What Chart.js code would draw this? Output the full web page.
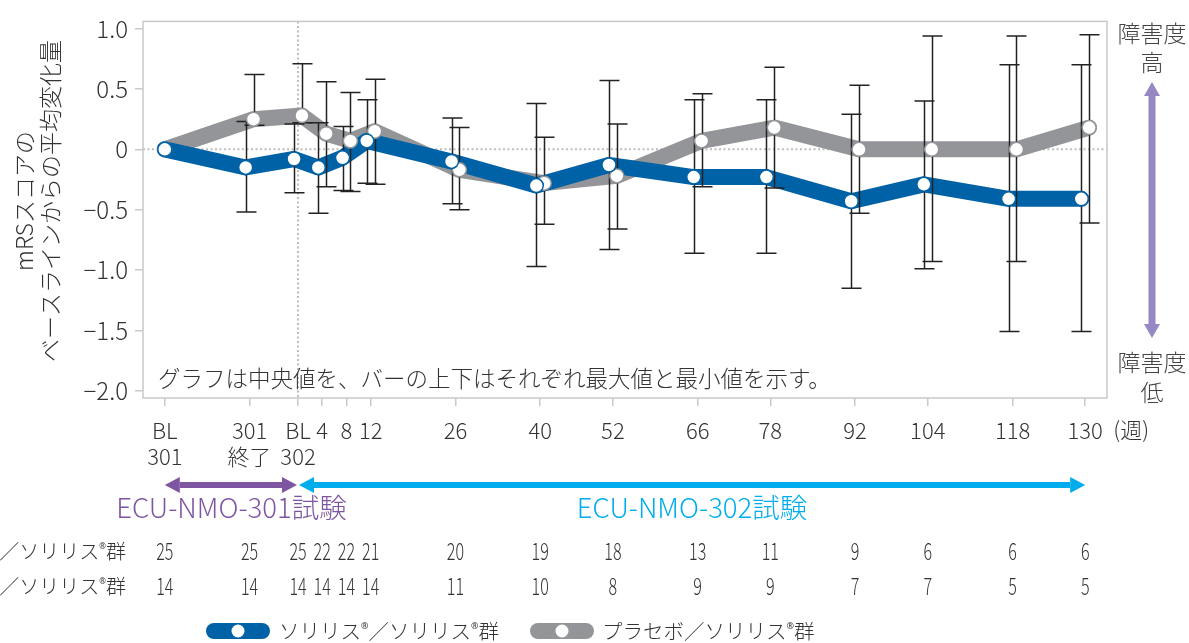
<!DOCTYPE html>
<html>
<head>
<meta charset="utf-8">
<script src="https://cdn.jsdelivr.net/npm/chart.js@4.4.1/dist/chart.umd.min.js"></script>
<style>
  html, body { margin: 0; padding: 0; background: #fff; overflow: hidden; }
  #wrap { position: relative; width: 1189px; height: 643px; }
</style>
</head>
<body>
<div id="wrap"><canvas id="c" width="1189" height="643"></canvas></div>
<script>
// ---------- data ----------
const weeks = [-22, -8, 0, 4, 8, 12, 26, 40, 52, 66, 78, 92, 104, 118, 130];
const xTickLabels = [["BL", "301"], ["301", "終了"], ["BL", "302"], "4", "8", "12", "26", "40", "52", "66", "78", "92", "104", "118", "130"];
const yTickValues = [1, 0.5, 0, -0.5, -1, -1.5, -2];
const yTickLabels = ["1.0", "0.5", "0", "−0.5", "−1.0", "−1.5", "−2.0"];

const solirisMedian = [0, -0.15, -0.08, -0.15, -0.07, 0.07, -0.10, -0.30, -0.13, -0.23, -0.23, -0.43, -0.29, -0.41, -0.41];
const solirisMax    = [null, 0.23, 0.21, 0.22, 0.19, 0.41, 0.26, 0.38, 0.57, 0.41, 0.41, 0.29, 0.40, 0.70, 0.70];
const solirisMin    = [null, -0.52, -0.36, -0.53, -0.34, -0.28, -0.45, -0.97, -0.83, -0.86, -0.86, -1.15, -0.99, -1.51, -1.51];

const placeboMedian = [0, 0.25, 0.28, 0.13, 0.07, 0.15, -0.17, -0.28, -0.22, 0.07, 0.18, 0, 0, 0, 0.18];
const placeboMax    = [null, 0.62, 0.71, 0.56, 0.47, 0.58, 0.18, 0.10, 0.21, 0.46, 0.68, 0.53, 0.94, 0.94, 0.95];
const placeboMin    = [null, 0.20, 0.22, -0.31, -0.35, -0.29, -0.50, -0.62, -0.66, -0.31, -0.32, -0.53, -0.93, -0.93, -0.61];

const nSoliris = [25, 25, 25, 22, 22, 21, 20, 19, 18, 13, 11, 9, 6, 6, 6];
const nPlacebo = [14, 14, 14, 14, 14, 14, 11, 10, 8, 9, 9, 7, 7, 5, 5];

const seriesNames = ["ソリリス®／ソリリス®群", "プラセボ／ソリリス®群"];
const yTitle = ["mRSスコアの", "ベースラインからの平均変化量"];
const noteText = "グラフは中央値を、バーの上下はそれぞれ最大値と最小値を示す。";
const studyLabels = ["ECU-NMO-301試験", "ECU-NMO-302試験"];
const weekUnit = "(週)";

// ---------- style ----------
const FONT = '"Noto Sans CJK JP", "Noto Sans", sans-serif';
const W = "300 ";
const BLUE = "#0062a6";
const GRAY = "#939598";
const PURPLE = "#7d55a1";
const CYAN = "#00adec";
const LAVENDER = "#9588c3";
const TEXT = "#333333";
const FRAME = "#c9c9c9";
const OFFSET = 0.65; // horizontal dodge (weeks) between the two groups where error bars exist

const dodge = (i, sign) => (solirisMax[i] == null ? 0 : sign * OFFSET);
const toPts = (arr, sign) => weeks.map((w, i) => ({ x: w + dodge(i, sign), y: arr[i] }));

function drawRich(ctx, str, x, y, size, align) {
  const parts = str.split(/(®)/).filter(s => s.length);
  const small = Math.round(size * 0.42);
  const fontFor = p => (p === "®" ? small + 'px "Noto Sans", sans-serif' : W + size + "px " + FONT);
  let total = 0;
  parts.forEach(p => { ctx.font = fontFor(p); total += ctx.measureText(p).width; });
  let cx = align === "right" ? x - total : x;
  ctx.textAlign = "left";
  parts.forEach(p => {
    ctx.font = fontFor(p);
    ctx.fillText(p, cx, p === "®" ? y - size * 0.22 : y);
    cx += ctx.measureText(p).width;
  });
}

function arrowH(ctx, x1, x2, y, color) {
  const hl = 15, hw = 8, sw = 3;
  ctx.fillStyle = color;
  ctx.fillRect(x1 + hl, y - sw, x2 - x1 - 2 * hl, sw * 2);
  ctx.beginPath(); ctx.moveTo(x1, y); ctx.lineTo(x1 + hl, y - hw); ctx.lineTo(x1 + hl, y + hw); ctx.closePath(); ctx.fill();
  ctx.beginPath(); ctx.moveTo(x2, y); ctx.lineTo(x2 - hl, y - hw); ctx.lineTo(x2 - hl, y + hw); ctx.closePath(); ctx.fill();
}

const decor = {
  id: "decor",
  beforeDatasetsDraw(chart) {
    const { ctx, chartArea: ca, scales: { x, y } } = chart;
    ctx.save();
    ctx.strokeStyle = "#bdbdbd";
    ctx.lineWidth = 2;
    ctx.setLineDash([2, 2.5]);
    const y0 = y.getPixelForValue(0);
    ctx.beginPath(); ctx.moveTo(ca.left, y0); ctx.lineTo(ca.right, y0); ctx.stroke();
    const xv = x.getPixelForValue(0);
    ctx.beginPath(); ctx.moveTo(xv, ca.top); ctx.lineTo(xv, ca.bottom); ctx.stroke();
    ctx.restore();
  },
  beforeDatasetDraw(chart, args) {
    if (args.index !== 2) return;
    const { ctx, scales: { x, y } } = chart;
    ctx.save();
    ctx.strokeStyle = "#222";
    ctx.lineWidth = 1.5;
    const drawBars = (mx, mn, sign) => {
      weeks.forEach((w, i) => {
        if (mx[i] == null) return;
        const px = Math.round(x.getPixelForValue(w + dodge(i, sign))) + 0.5;
        const t = y.getPixelForValue(mx[i]);
        const b = y.getPixelForValue(mn[i]);
        ctx.beginPath();
        ctx.moveTo(px, t); ctx.lineTo(px, b);
        ctx.moveTo(px - 10, t); ctx.lineTo(px + 10, t);
        ctx.moveTo(px - 10, b); ctx.lineTo(px + 10, b);
        ctx.stroke();
      });
    };
    drawBars(placeboMax, placeboMin, 1);
    drawBars(solirisMax, solirisMin, -1);
    ctx.restore();
  },
  afterDraw(chart) {
    const { ctx, chartArea: ca, scales: { x } } = chart;
    ctx.save();
    ctx.strokeStyle = FRAME;
    ctx.lineWidth = 1.5;
    ctx.strokeRect(ca.left, ca.top, ca.right - ca.left, ca.bottom - ca.top);

    ctx.fillStyle = TEXT;
    ctx.textBaseline = "middle";
    ctx.font = W + "22.5px " + FONT;
    ctx.textAlign = "left";
    ctx.fillText(noteText, ca.left + 15, 378);

    ctx.save();
    ctx.translate(24, 201);
    ctx.rotate(-Math.PI / 2);
    ctx.textAlign = "center";
    ctx.font = W + "23px " + FONT;
    ctx.fillText(yTitle[0], 0, 0);
    ctx.fillText(yTitle[1], 0, 26);
    ctx.restore();

    ctx.font = W + "22px " + FONT;
    ctx.textAlign = "center";
    ctx.fillText(weekUnit, x.getPixelForValue(weeks[weeks.length - 1]) + 46, 430);

    ctx.fillStyle = "#444";
    ctx.font = W + "23px " + FONT;
    ctx.fillText("障害度", 1152, 33);
    ctx.fillText("高", 1152, 62);
    ctx.fillText("障害度", 1152, 362);
    ctx.fillText("低", 1152, 392);
    ctx.fillStyle = LAVENDER;
    ctx.fillRect(1152 - 3.5, 94, 7, 232);
    ctx.beginPath(); ctx.moveTo(1152, 82); ctx.lineTo(1144, 96); ctx.lineTo(1160, 96); ctx.closePath(); ctx.fill();
    ctx.beginPath(); ctx.moveTo(1152, 338); ctx.lineTo(1144, 324); ctx.lineTo(1160, 324); ctx.closePath(); ctx.fill();

    const xa = x.getPixelForValue(weeks[0]);
    const xb = x.getPixelForValue(weeks[2]);
    const xc = x.getPixelForValue(weeks[weeks.length - 1]);
    arrowH(ctx, xa, xb - 1, 485, PURPLE);
    arrowH(ctx, xb + 1, xc, 485, CYAN);
    ctx.font = W + "27.5px " + FONT;
    ctx.textAlign = "center";
    ctx.fillStyle = PURPLE;
    ctx.fillText(studyLabels[0], (xa + xb) / 2, 508);
    ctx.fillStyle = CYAN;
    ctx.fillText(studyLabels[1], 692, 508);

    ctx.fillStyle = TEXT;
    drawRich(ctx, seriesNames[0], 126, 551, 20, "right");
    drawRich(ctx, seriesNames[1], 126, 586, 20, "right");
    ctx.font = W + "23px " + FONT;
    ctx.textAlign = "center";
    weeks.forEach((w, i) => {
      const px = x.getPixelForValue(w);
      [[nSoliris, 551], [nPlacebo, 586]].forEach(([arr, yy]) => {
        ctx.save();
        ctx.translate(px, yy);
        ctx.scale(0.7, 1);
        ctx.fillText(String(arr[i]), 0, 0);
        ctx.restore();
      });
    });

    const pill = (x0, color) => {
      ctx.fillStyle = color;
      ctx.beginPath();
      ctx.roundRect(x0, 623, 64, 16, 8);
      ctx.fill();
      ctx.fillStyle = "#fff";
      ctx.beginPath(); ctx.arc(x0 + 32, 631, 6.5, 0, Math.PI * 2); ctx.fill();
    };
    pill(206, BLUE);
    pill(530, GRAY);
    ctx.fillStyle = TEXT;
    drawRich(ctx, seriesNames[0], 279, 631, 20.5, "left");
    drawRich(ctx, seriesNames[1], 602, 631, 20.5, "left");
    ctx.restore();
  }
};

new Chart(document.getElementById("c"), {
  type: "line",
  data: {
    datasets: [
      { data: toPts(placeboMedian, 1), borderColor: GRAY, borderWidth: 16, pointRadius: 0, borderJoinStyle: "round", borderCapStyle: "round", tension: 0, order: 4 },
      { data: toPts(solirisMedian, -1), borderColor: BLUE, borderWidth: 16, pointRadius: 0, borderJoinStyle: "round", borderCapStyle: "round", tension: 0, order: 3 },
      { data: toPts(placeboMedian, 1), showLine: false, pointRadius: 7, pointBackgroundColor: "#fff", pointBorderColor: GRAY, pointBorderWidth: 1.5, order: 2 },
      { data: toPts(solirisMedian, -1), showLine: false, pointRadius: 7, pointBackgroundColor: "#fff", pointBorderColor: BLUE, pointBorderWidth: 1.5, order: 1 }
    ]
  },
  options: {
    responsive: false,
    devicePixelRatio: 1,
    animation: false,
    events: [],
    layout: { padding: { left: 0, top: 21, right: 82, bottom: 175 } },
    plugins: { legend: { display: false }, tooltip: { enabled: false } },
    scales: {
      x: {
        type: "linear",
        min: -25.6,
        max: 133.6,
        afterFit: s => { s.height = 70; },
        afterBuildTicks: s => { s.ticks = weeks.map(v => ({ value: v })); },
        border: { display: false },
        grid: { display: true, drawOnChartArea: false, drawTicks: true, tickLength: 8, color: FRAME, lineWidth: 1.5 },
        ticks: {
          autoSkip: false, maxRotation: 0, minRotation: 0, padding: 12,
          color: TEXT, font: { family: FONT, size: 22, weight: 300, lineHeight: 1.18 },
          callback: (v, i) => xTickLabels[i]
        }
      },
      y: {
        min: -2.06,
        max: 1.06,
        afterFit: s => { s.width = 143; },
        afterBuildTicks: s => { s.ticks = yTickValues.map(v => ({ value: v })); },
        border: { display: false },
        grid: { display: true, drawOnChartArea: false, drawTicks: true, tickLength: 8, color: FRAME, lineWidth: 1.5 },
        ticks: {
          padding: 7, color: TEXT, font: { family: FONT, size: 24, weight: 300 },
          callback: (v, i) => yTickLabels[i]
        }
      }
    }
  },
  plugins: [decor]
});
</script>
</body>
</html>
